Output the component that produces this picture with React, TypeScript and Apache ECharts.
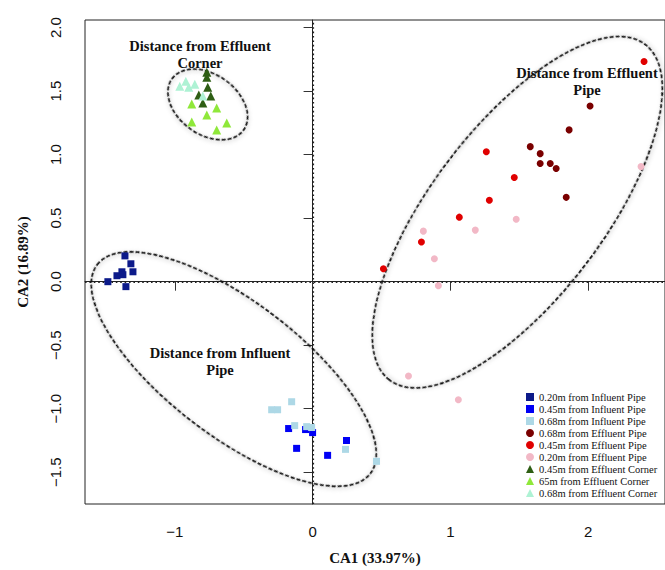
import React, { useEffect, useRef } from 'react';
import * as echarts from 'echarts';

// ---- Axis ticks / ranges ----
const X_TICKS = [-1, 0, 1, 2];
const Y_TICKS = [-1.5, -1.0, -0.5, 0.0, 0.5, 1.0, 1.5, 2.0];
const X_RANGE = [-1.652, 2.558];
const Y_RANGE = [-1.75, 2.06];
const ZERO_LINES = [0]; // reference lines at CA1 = 0 and CA2 = 0

// ---- Series names ----
const NAMES = [
  '0.20m from Influent Pipe',
  '0.45m from Influent Pipe',
  '0.68m from Influent Pipe',
  '0.68m from Effluent Pipe',
  '0.45m from Effluent Pipe',
  '0.20m from Effluent Pipe',
  '0.45m from Effluent Corner',
  '65m from Effluent Corner',
  '0.68m from Effluent Corner',
];

// ---- Data (CA1, CA2) ----
const INFLUENT_020 = [
  [-1.362, 0.203], [-1.319, 0.141], [-1.304, 0.078], [-1.384, 0.078],
  [-1.420, 0.047], [-1.377, 0.055], [-1.486, 0.0], [-1.355, -0.039],
];
const INFLUENT_045 = [
  [-0.174, -1.156], [-0.051, -1.164], [0.0, -1.188], [-0.116, -1.312],
  [0.246, -1.25], [0.109, -1.367],
];
const INFLUENT_068 = [
  [-0.152, -0.945], [-0.297, -1.008], [-0.254, -1.008], [-0.130, -1.133],
  [-0.043, -1.141], [-0.007, -1.148], [0.239, -1.320], [0.464, -1.414],
];
const EFFLUENT_068 = [
  [2.014, 1.383], [1.862, 1.195], [1.580, 1.063], [1.652, 1.008],
  [1.652, 0.930], [1.725, 0.930], [1.768, 0.891], [1.841, 0.664],
];
const EFFLUENT_045 = [
  [2.406, 1.734], [1.261, 1.023], [1.464, 0.820], [1.283, 0.641],
  [1.065, 0.508], [0.790, 0.312], [0.514, 0.102],
];
const EFFLUENT_020 = [
  [2.384, 0.906], [0.804, 0.398], [1.181, 0.406], [1.478, 0.492],
  [0.884, 0.180], [0.913, -0.031], [0.696, -0.742], [1.058, -0.930],
];
const CORNER_045 = [
  [-0.768, 1.648], [-0.768, 1.609], [-0.761, 1.531], [-0.826, 1.469],
  [-0.739, 1.461], [-0.797, 1.406],
];
const CORNER_065 = [
  [-0.877, 1.398], [-0.696, 1.367], [-0.768, 1.312], [-0.877, 1.258],
  [-0.623, 1.250], [-0.696, 1.195],
];
const CORNER_068 = [
  [-0.964, 1.539], [-0.920, 1.578], [-0.899, 1.531], [-0.855, 1.555],
  [-0.797, 1.461],
];

// ---- Ellipse centres (data coords) ----
const ELLIPSE_CENTERS = [
  [1.486, 0.547],
  [-0.572, -0.688],
  [-0.761, 1.395],
];

// ---- Styles ----
const ELLIPSE_SHAPES = [
  { rx: 211, ry: 86, rot: 52.7 },
  { rx: 172, ry: 67, rot: -37.4 },
  { rx: 44, ry: 30, rot: -35.5 },
];
const SERIES_STYLE = [
  { symbol: 'rect', size: 7, color: '#0c1a8a' },
  { symbol: 'rect', size: 7, color: '#0000f5' },
  { symbol: 'rect', size: 7, color: '#add8e6' },
  { symbol: 'circle', size: 7, color: '#7a0000' },
  { symbol: 'circle', size: 7, color: '#e00000' },
  { symbol: 'circle', size: 7, color: '#f2b8c6' },
  { symbol: 'triangle', size: 9, color: '#2e5e14' },
  { symbol: 'triangle', size: 9, color: '#8fe83a' },
  { symbol: 'triangle', size: 9, color: '#aef2d4' },
];
const SERIES_DATA = [
  INFLUENT_020, INFLUENT_045, INFLUENT_068,
  EFFLUENT_068, EFFLUENT_045, EFFLUENT_020,
  CORNER_045, CORNER_065, CORNER_068,
];

const CLUSTER_LABELS = [
  { text: 'Distance from Effluent\nCorner', x: 200, y: 54 },
  { text: 'Distance from Effluent\nPipe', x: 587, y: 81 },
  { text: 'Distance from Influent\nPipe', x: 220, y: 361 },
];

export default function App() {
  const ref = useRef<HTMLDivElement>(null);
  useEffect(() => {
    if (!ref.current) return;
    const chart = echarts.init(ref.current, undefined, { renderer: 'svg' });
    const scatter = SERIES_DATA.map((d, i) => ({
      name: NAMES[i],
      type: 'scatter',
      data: d,
      symbol: SERIES_STYLE[i].symbol,
      symbolSize: SERIES_STYLE[i].size,
      itemStyle: { color: SERIES_STYLE[i].color, opacity: 1 },
      z: 3,
    }));
    const option: any = {
      animation: false,
      grid: {
        left: 85, top: 20, right: -1, bottom: 63,
        show: true, borderColor: '#222', borderWidth: 1, backgroundColor: 'transparent',
      },
      xAxis: {
        type: 'value',
        min: X_RANGE[0],
        max: X_RANGE[1],
        name: 'CA1 (33.97%)',
        nameLocation: 'middle',
        nameGap: 46,
        nameTextStyle: { fontFamily: 'Liberation Serif', fontWeight: 'bold', fontSize: 15, color: '#111' },
        splitLine: { show: false },
        axisLine: { show: true, lineStyle: { color: '#222' } },
        axisTick: { show: true, length: 9, lineStyle: { color: '#333' }, customValues: X_TICKS },
        axisLabel: {
          customValues: X_TICKS,
          margin: 20,
          fontFamily: 'Liberation Sans',
          fontSize: 15,
          color: '#111',
          formatter: (v: number) => (v < 0 ? '\u2212' + Math.abs(v) : String(v)),
        },
      },
      yAxis: {
        type: 'value',
        min: Y_RANGE[0],
        max: Y_RANGE[1],
        name: 'CA2 (16.89%)',
        nameLocation: 'middle',
        nameGap: 55,
        nameRotate: 90,
        nameTextStyle: { fontFamily: 'Liberation Serif', fontWeight: 'bold', fontSize: 15, color: '#111' },
        splitLine: { show: false },
        axisLine: { show: true, lineStyle: { color: '#222' } },
        axisTick: { show: true, length: 9, lineStyle: { color: '#333' }, customValues: Y_TICKS },
        axisLabel: {
          customValues: Y_TICKS,
          rotate: 90,
          margin: 22,
          fontFamily: 'Liberation Sans',
          fontSize: 15,
          color: '#111',
          formatter: (v: number) => (v < 0 ? '\u2212' + Math.abs(v).toFixed(1) : v.toFixed(1)),
        },
      },
      legend: {
        orient: 'vertical',
        left: 526,
        top: 391,
        padding: 0,
        itemGap: 0,
        itemWidth: 8,
        itemHeight: 8,
        itemTextGap: 3,
        data: NAMES,
        textStyle: { fontFamily: 'Liberation Serif', fontSize: 10.5, color: '#111', lineHeight: 12 },
      },
      graphic: CLUSTER_LABELS.map((l) => ({
        type: 'text',
        x: l.x,
        y: l.y,
        z: 10,
        style: {
          text: l.text,
          fontFamily: 'Liberation Serif',
          fontWeight: 'bold',
          fontSize: 14.5,
          lineHeight: 17,
          fill: '#111',
          align: 'center',
          verticalAlign: 'middle',
        },
      })),
      series: [
        {
          type: 'custom',
          name: 'zero-lines',
          silent: true,
          clip: true,
          z: 1,
          data: ZERO_LINES,
          renderItem: (params: any, api: any) => {
            const v = api.value(0);
            const a = api.coord([v, Y_RANGE[0]]);
            const b = api.coord([v, Y_RANGE[1]]);
            const c = api.coord([X_RANGE[0], v]);
            const d = api.coord([X_RANGE[1], v]);
            const style = { stroke: '#222', lineWidth: 1.2, lineDash: [1.6, 2.8], lineCap: 'butt', fill: 'none' };
            return {
              type: 'group',
              children: [
                { type: 'line', shape: { x1: Math.round(a[0]) + 0.5, y1: a[1], x2: Math.round(b[0]) + 0.5, y2: b[1] }, style },
                { type: 'line', shape: { x1: c[0], y1: Math.round(c[1]) + 0.5, x2: d[0], y2: Math.round(d[1]) + 0.5 }, style },
              ],
            };
          },
        },
        {
          type: 'custom',
          name: 'ellipses',
          silent: true,
          clip: false,
          z: 2,
          data: ELLIPSE_CENTERS,
          renderItem: (params: any, api: any) => {
            const s = ELLIPSE_SHAPES[params.dataIndex];
            const p = api.coord([api.value(0), api.value(1)]);
            return {
              type: 'ellipse',
              x: p[0],
              y: p[1],
              rotation: (s.rot * Math.PI) / 180,
              shape: { cx: 0, cy: 0, rx: s.rx, ry: s.ry },
              style: {
                fill: 'none',
                stroke: '#111',
                lineWidth: 1.7,
                lineDash: [4, 2],
                shadowBlur: 4,
                shadowColor: 'rgba(0,0,0,0.3)',
                shadowOffsetX: 1,
                shadowOffsetY: 1,
              },
            };
          },
        },
        ...scatter,
      ],
    };
    chart.setOption(option);
    return () => chart.dispose();
  }, []);
  return (
    <div
      ref={ref}
      style={{ position: 'fixed', left: 0, top: 0, width: 665, height: 570, background: '#fff' }}
    />
  );
}
